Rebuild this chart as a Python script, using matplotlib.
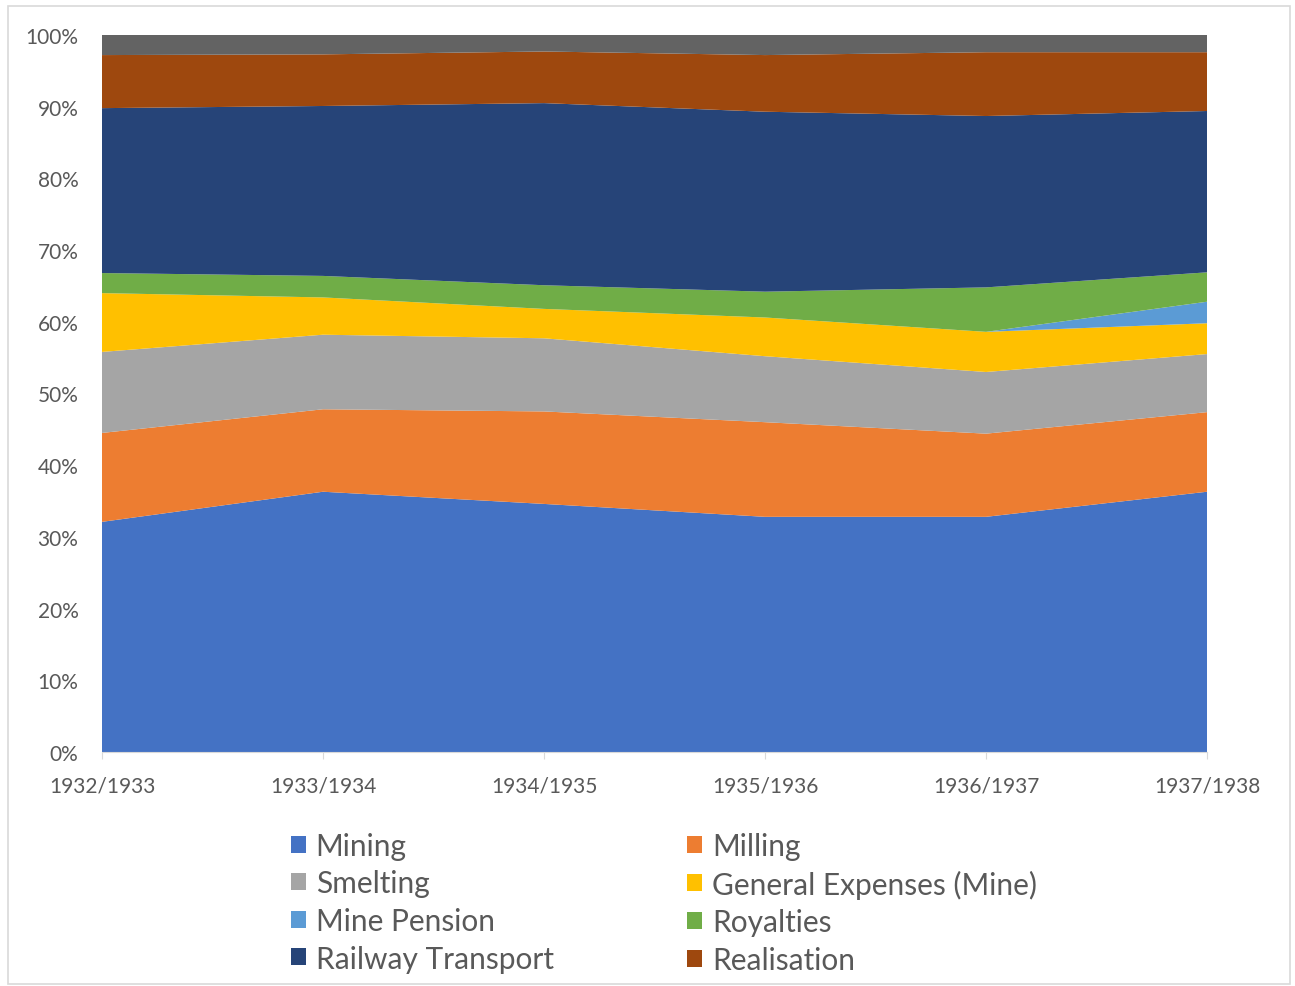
import matplotlib
matplotlib.use("Agg")
import matplotlib.pyplot as plt
from matplotlib.ticker import FuncFormatter
from matplotlib.patches import Patch, Rectangle
import numpy as np

plt.rcParams['font.family'] = ['Lato', 'DejaVu Sans']

years = ["1932/1933", "1933/1934", "1934/1935", "1935/1936", "1936/1937", "1937/1938"]
mining = [32.1, 36.3, 34.6, 32.8, 32.8, 36.3]
milling = [12.4, 11.5, 12.9, 13.2, 11.6, 11.1]
smelting = [11.3, 10.4, 10.2, 9.2, 8.6, 8.1]
general_expenses = [8.2, 5.2, 4.1, 5.4, 5.6, 4.3]
mine_pension = [0.0, 0.0, 0.0, 0.0, 0.0, 3.0]
royalties = [2.8, 3.0, 3.3, 3.6, 6.2, 4.1]
railway = [23.0, 23.7, 25.4, 25.1, 23.9, 22.5]
realisation = [7.4, 7.2, 7.2, 7.9, 8.9, 8.2]
other = [2.8, 2.7, 2.3, 2.8, 2.4, 2.4]

labels = ["Mining", "Milling", "Smelting", "General Expenses (Mine)", "Mine Pension",
          "Royalties", "Railway Transport", "Realisation", "Other"]
colors = ["#4472C4", "#ED7D31", "#A5A5A5", "#FFC000", "#5B9BD5", "#70AD47",
          "#264478", "#9E480E", "#636363"]
series = [mining, milling, smelting, general_expenses, mine_pension, royalties,
          railway, realisation, other]

fig = plt.figure(figsize=(12.95, 9.87), dpi=100)
fig.patches.append(Rectangle((8/1295, 2/987), 1282/1295, 978/987, transform=fig.transFigure,
                             fill=False, edgecolor="#D9D9D9", linewidth=1.2))
ax = fig.add_axes([102/1295, 1 - 753/987, (1207 - 102)/1295, (753 - 36)/987])

# normalise to 100% stacked
arr = np.array(series, dtype=float)
arr = arr / arr.sum(axis=0) * 100
x = np.arange(len(years))
ax.stackplot(x, arr, colors=colors, linewidth=0)

ax.set_xlim(0, len(years) - 1)
ax.set_ylim(0, 100)
ax.set_yticks(np.arange(0, 101, 10))
ax.yaxis.set_major_formatter(FuncFormatter(lambda v, p: f"{int(v)}%"))
ax.set_xticks(x)
ax.set_xticklabels(years)
for s in ["top", "right", "left"]:
    ax.spines[s].set_visible(False)
ax.spines["bottom"].set_color("#D9D9D9")
ax.tick_params(axis="y", length=0, labelsize=15, labelcolor="#595959", pad=17)
ax.tick_params(axis="x", length=5, color="#D9D9D9", labelsize=15, labelcolor="#595959", pad=12)

handles = [Patch(facecolor=c, edgecolor="none") for c in colors[:8]]
order = [0, 2, 4, 6, 1, 3, 5, 7]
leg = fig.legend([handles[i] for i in order], [labels[i] for i in order],
                 ncol=2, loc="upper left", bbox_to_anchor=(264/1295, 1 - 806/987),
                 frameon=False, fontsize=21.5, labelcolor="#595959",
                 handlelength=0.5, handleheight=0.5, handletextpad=0.33,
                 columnspacing=4.47, labelspacing=0.32)

fig.savefig("out.png", dpi=100)
